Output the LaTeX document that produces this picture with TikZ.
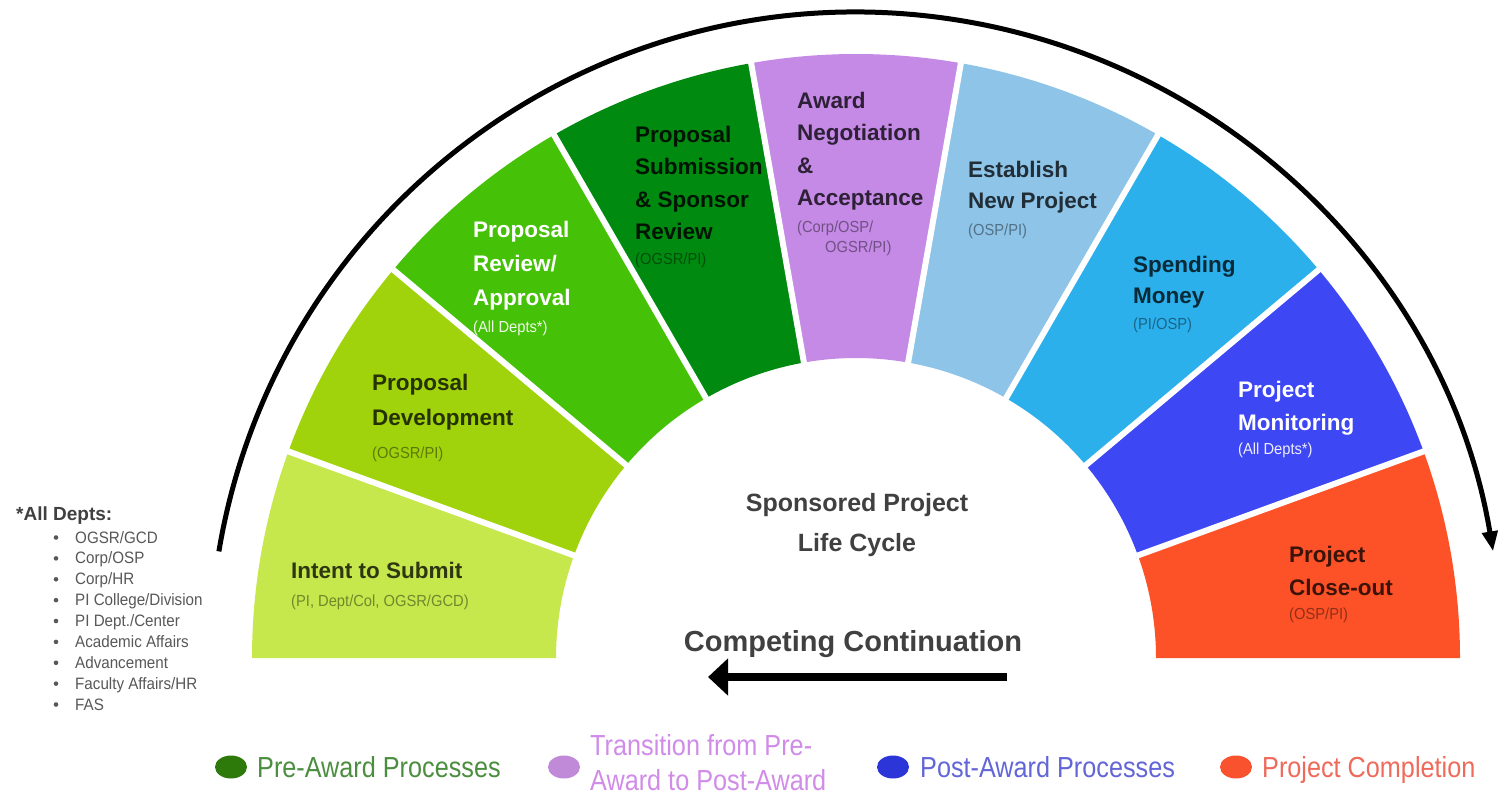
\documentclass[tikz,border=0pt]{standalone}
\usepackage{fontspec}
\setmainfont{Liberation Sans}
\newfontfamily\condfont[FakeStretch=0.87]{Liberation Sans}
\newfontfamily\subfont[FakeStretch=0.92]{Liberation Sans}
\usetikzlibrary{arrows.meta}
\definecolor{cA}{HTML}{C6E84C}
\definecolor{cB}{HTML}{A0D30C}
\definecolor{cC}{HTML}{45C108}
\definecolor{cD}{HTML}{008A10}
\definecolor{cE}{HTML}{C48AE6}
\definecolor{cF}{HTML}{8EC4E8}
\definecolor{cG}{HTML}{2BB0EC}
\definecolor{cH}{HTML}{3E47F4}
\definecolor{cI}{HTML}{FD5227}
\definecolor{lgA}{HTML}{2D7A0B}
\definecolor{lgAt}{HTML}{4C8E3F}
\definecolor{lgB}{HTML}{C08AD8}
\definecolor{lgBt}{HTML}{D08CE8}
\definecolor{lgC}{HTML}{2B35D8}
\definecolor{lgCt}{HTML}{6366D6}
\definecolor{lgD}{HTML}{F8532E}
\definecolor{lgDt}{HTML}{EE6B5B}
\definecolor{listgray}{HTML}{585858}
\definecolor{darktxt}{HTML}{404040}
\begin{document}
\begin{tikzpicture}[x=1pt,y=-1pt,
  ttl/.style={anchor=base west, inner sep=0pt, font=\bfseries\fontsize{22.5}{27}\selectfont, text=black, text opacity=0.76},
  ttlw/.style={ttl, text=white, text opacity=1},
  sub/.style={anchor=base west, inner sep=0pt, font=\subfont\fontsize{16}{19}\selectfont, text=black, text opacity=0.42},
  subw/.style={sub, text=white, text opacity=0.9},
  sepline/.style={draw=white, line width=6pt},
  bigarc/.style={draw=black, line width=5pt, -{Triangle[length=20pt,width=15pt]}},
  backarrow/.style={draw=black, line width=8pt, -{Triangle[length=20pt,width=36pt]}},
  ctrtxt/.style={anchor=base, inner sep=0pt, text=darktxt, font=\bfseries\fontsize{25}{30}\selectfont},
  listhead/.style={anchor=base west, inner sep=0pt, text=darktxt, font=\bfseries\fontsize{19}{23}\selectfont},
  listitem/.style={anchor=base west, inner sep=0pt, text=listgray, font=\subfont\fontsize{16.5}{20}\selectfont},
  legtxt/.style={anchor=base west, inner sep=0pt, font=\condfont\fontsize{29}{35}\selectfont}
]
\useasboundingbox (0,0) rectangle (1499,796);
\fill[white] (0,0) rectangle (1499,796);

% ring of segments
\begin{scope}[shift={(856,658)}, y=1pt]
  \foreach \a/\c in {180/cA,160/cB,140/cC,120/cD,100/cE,80/cF,60/cG,40/cH,20/cI} {
    \pgfmathsetmacro\b{\a-20}
    \fill[\c] (\a:300) arc[start angle=\a, end angle=\b, radius=300]
      -- (\b:604) arc[start angle=\b, end angle=\a, radius=604] -- cycle;
  }
  \foreach \a in {160,140,...,20} \draw[sepline] (\a:294) -- (\a:610);
  \coordinate (arcstart) at (170.5:646);
  \draw[bigarc] (arcstart) arc[start angle=170.5, end angle=9.5, radius=646];
\end{scope}

% segment labels
\node[ttl] (t1a) at (291,578) {Intent to Submit};
\node[sub] (s1) at (291,606) {(PI, Dept/Col, OGSR/GCD)};

\node[ttl] (t2a) at (372,390) {Proposal};
\node[ttl] (t2b) at (372,425) {Development};
\node[sub] (s2) at (372,458) {(OGSR/PI)};

\node[ttlw] (t3a) at (473,237) {Proposal};
\node[ttlw] (t3b) at (473,271) {Review/};
\node[ttlw] (t3c) at (473,305) {Approval};
\node[subw] (s3) at (473,332) {(All Depts*)};

\node[ttl, text opacity=0.85] (t4a) at (635,142) {Proposal};
\node[ttl, text opacity=0.85] (t4b) at (635,174) {Submission};
\node[ttl, text opacity=0.85] (t4c) at (635,207) {\& Sponsor};
\node[ttl, text opacity=0.85] (t4d) at (635,239) {Review};
\node[sub] (s4) at (635,264) {(OGSR/PI)};

\node[ttl] (t5a) at (797,108) {Award};
\node[ttl] (t5b) at (797,140) {Negotiation};
\node[ttl] (t5c) at (797,173) {\&};
\node[ttl] (t5d) at (797,205) {Acceptance};
\node[sub] (s5a) at (797,232) {(Corp/OSP/};
\node[sub] (s5b) at (825,252) {OGSR/PI)};

\node[ttl] (t6a) at (968,177) {Establish};
\node[ttl] (t6b) at (968,208) {New Project};
\node[sub] (s6) at (968,235) {(OSP/PI)};

\node[ttl] (t7a) at (1133,272) {Spending};
\node[ttl] (t7b) at (1133,303) {Money};
\node[sub] (s7) at (1133,329) {(PI/OSP)};

\node[ttlw] (t8a) at (1238,397) {Project};
\node[ttlw] (t8b) at (1238,430) {Monitoring};
\node[subw] (s8) at (1238,454) {(All Depts*)};

\node[ttl] (t9a) at (1289,562) {Project};
\node[ttl] (t9b) at (1289,595) {Close-out};
\node[sub] (s9) at (1289,619) {(OSP/PI)};

% centre
\node[ctrtxt] (c1) at (857,511) {Sponsored Project};
\node[ctrtxt] (c2) at (857,551) {Life Cycle};
\node[ctrtxt, font=\bfseries\fontsize{29}{34}\selectfont] (c3) at (853,651) {Competing Continuation};
\coordinate (ccR) at (1007,677);
\coordinate (ccL) at (708,677);
\draw[backarrow] (ccR) -- (ccL);

% department list
\node[listhead] (lh) at (16,520) {*All Depts:};
\foreach \t [count=\i from 0] in {OGSR/GCD, Corp/OSP, Corp/HR, PI College/Division, PI Dept./Center, Academic Affairs, Advancement, Faculty Affairs/HR, FAS} {
  \pgfmathsetmacro\yy{543+20.875*\i}
  \fill[listgray] (56,\yy-5.5) circle[radius=2.3pt];
  \node[listitem] (li\i) at (75,\yy) {\t};
}

% legend
\fill[lgA] (231,767) ellipse[x radius=16, y radius=11.5];
\node[legtxt, text=lgAt] (lg1) at (257,777) {Pre-Award Processes};
\fill[lgB] (564,767) ellipse[x radius=16, y radius=11.5];
\node[legtxt, text=lgBt] (lg2a) at (590,755) {Transition from Pre-};
\node[legtxt, text=lgBt] (lg2b) at (590,790) {Award to Post-Award};
\fill[lgC] (893,767) ellipse[x radius=16, y radius=11.5];
\node[legtxt, text=lgCt] (lg3) at (920,777) {Post-Award Processes};
\fill[lgD] (1236,767) ellipse[x radius=16, y radius=11.5];
\node[legtxt, text=lgDt] (lg4) at (1262,777) {Project Completion};
\end{tikzpicture}
\end{document}
